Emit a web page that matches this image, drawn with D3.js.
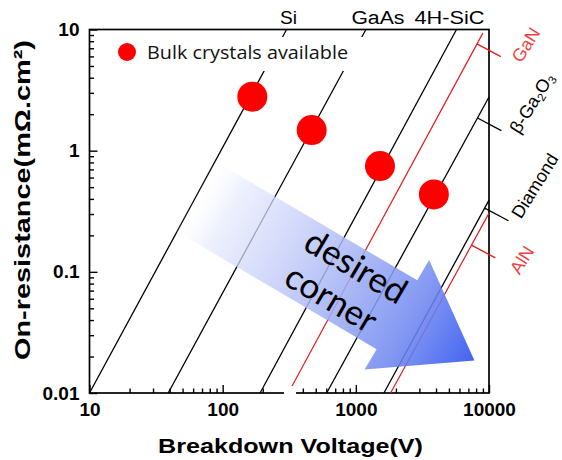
<!DOCTYPE html>
<html><head><meta charset="utf-8">
<script src="https://cdn.jsdelivr.net/npm/d3@7"></script>
<style>body{margin:0;background:#fff}svg{display:block}</style>
</head><body><svg id="chart" width="562" height="460"></svg>
<script>
// ---- data ----
const materials  = ["Si", "GaAs", "4H-SiC", "GaN", "β-Ga2O3", "Diamond", "AlN"];
const lineStartV = [10, 39, 191, 326, 604, 1625, 1824];
const lineStartR = [0.01, 0.01, 0.01, 0.011, 0.01, 0.01, 0.01];
const lineEndV   = [302, 1190, 5700, 8990, 10000, 10000, 10000];
const lineEndR   = [10, 10, 10, 9.33, 2.77, 0.391, 0.305];
const bulkV = [167, 466, 1518, 3855];
const bulkR = [2.79, 1.48, 0.746, 0.435];
const xTicks = [10, 100, 1000, 10000];
const yTicks = [0.01, 0.1, 1, 10];
const xTickLabels = ["10", "100", "1000", "10000"];
const yTickLabels = ["0.01", "0.1", "1", "10"];
const sideMaterials = ["GaN", "β-Ga2O3", "Diamond", "AlN"];
const sideLeaderR   = [7.6, 1.86, 0.336, 0.166];
const legendLabel = "Bulk crystals available";
const xTitle = "Breakdown Voltage(V)";
const yTitle = "On-resistance(mΩ.cm²)";

// ---- styles ----
const RED = "#e21b1b", LABEL_RED = "#ee4444";
const lineColor = {"Si":"#000","GaAs":"#000","4H-SiC":"#000","GaN":RED,"β-Ga2O3":"#000","Diamond":"#000","AlN":RED};
const SANS = "'Liberation Sans', Arial, sans-serif";

const svg = d3.select("#chart");
const x = d3.scaleLog().domain([10, 10000]).range([89.5, 489]);
const y = d3.scaleLog().domain([0.01, 10]).range([393, 29.5]);

// minor ticks
const minorX = [], minorY = [];
[10, 100, 1000].forEach(d => { for (let k = 2; k <= 9; k++) minorX.push(d * k); });
[0.01, 0.1, 1].forEach(d => { for (let k = 2; k <= 9; k++) minorY.push(+(d * k).toPrecision(3)); });

function styleAxis(g) {
  g.select(".domain").remove();
  g.selectAll("line").attr("stroke", "#000").attr("stroke-width", 1.4);
  g.selectAll("text").attr("font-family", SANS).attr("font-weight", "bold")
    .attr("font-size", 19).attr("fill", "#000");
}
svg.append("g").attr("transform", "translate(0,393)")
  .call(d3.axisBottom(x).tickValues(minorX).tickSize(-4.5).tickFormat(""))
  .call(styleAxis);
svg.append("g").attr("transform", "translate(0,393)")
  .call(d3.axisBottom(x).tickValues(xTicks).tickSize(-8).tickPadding(10)
    .tickFormat((d, i) => xTickLabels[i]))
  .call(styleAxis);
svg.append("g").attr("transform", "translate(89.5,0)")
  .call(d3.axisLeft(y).tickValues(minorY).tickSize(-4.5).tickFormat(""))
  .call(styleAxis);
svg.append("g").attr("transform", "translate(89.5,0)")
  .call(d3.axisLeft(y).tickValues(yTicks).tickSize(-8).tickPadding(10)
    .tickFormat((d, i) => yTickLabels[i]))
  .call(styleAxis);

// frame
svg.append("rect")
  .attr("x", x(10)).attr("y", y(10))
  .attr("width", x(10000) - x(10)).attr("height", y(0.01) - y(10))
  .attr("fill", "none").attr("stroke", "#000").attr("stroke-width", 1.7);

// material limit lines
const lineData = materials.map((m, i) => ({
  name: m,
  pts: [[lineStartV[i], lineStartR[i]], [lineEndV[i], lineEndR[i]]]
}));
const lineGen = d3.line().x(d => x(d[0])).y(d => y(d[1]));
svg.append("g").selectAll("path").data(lineData).join("path")
  .attr("d", d => lineGen(d.pts))
  .attr("fill", "none")
  .attr("stroke", d => lineColor[d.name])
  .attr("stroke-width", d => lineColor[d.name] === RED ? 1.2 : 1.3);

// gap in x axis at the GaN line foot
svg.append("rect").attr("x", x(lineStartV[3]) - 7).attr("y", 386)
  .attr("width", 12).attr("height", 10).attr("fill", "#fff");

// top labels
const topOffsets = [2, 12, -7];
svg.append("g").selectAll("text").data(materials.slice(0, 3)).join("text")
  .attr("x", (d, i) => x(lineEndV[i]) + topOffsets[i])
  .attr("y", 24)
  .attr("text-anchor", "middle")
  .attr("font-family", SANS).attr("font-size", 18)
  .attr("textLength", (d, i) => [17, 53, 70][i]).attr("lengthAdjust", "spacingAndGlyphs")
  .text(d => d);

// bulk crystal dots
svg.append("g").selectAll("circle").data(bulkV.map((v, i) => [v, bulkR[i]])).join("circle")
  .attr("cx", d => x(d[0])).attr("cy", d => y(d[1])).attr("r", 15)
  .attr("fill", "#ff0000");

// legend (white box hides lines)
svg.append("rect").attr("x", 100).attr("y", 37).attr("width", 272).attr("height", 34).attr("fill", "#fff");
svg.append("circle").attr("cx", 127).attr("cy", 52).attr("r", 9).attr("fill", "#ff0000");
svg.append("text").attr("x", 147).attr("y", 58.5)
  .attr("font-family", "'Open Sans', sans-serif").attr("font-size", 18)
  .attr("textLength", 201).attr("lengthAdjust", "spacingAndGlyphs")
  .attr("fill", "#111").text(legendLabel);

// side leaders + labels
function pointOnLine(i, r) {
  const lr0 = Math.log10(lineStartR[i]), lr1 = Math.log10(lineEndR[i]);
  const lv0 = Math.log10(lineStartV[i]), lv1 = Math.log10(lineEndV[i]);
  const t = (Math.log10(r) - lr0) / (lr1 - lr0);
  return [Math.pow(10, lv0 + t * (lv1 - lv0)), r];
}
const ang = 28 * Math.PI / 180, LL = 27;
const sideLabelPos = [[526, 45], [532, 103], [535, 186], [522, 260]];
sideMaterials.forEach((m, k) => {
  const i = materials.indexOf(m);
  const p = pointOnLine(i, sideLeaderR[k]);
  const x0 = x(p[0]), y0 = y(p[1]);
  const col = lineColor[m] === RED ? RED : "#000";
  svg.append("line").attr("x1", x0).attr("y1", y0)
    .attr("x2", x0 + LL * Math.cos(ang)).attr("y2", y0 + LL * Math.sin(ang))
    .attr("stroke", col).attr("stroke-width", 1.3);
  const t = svg.append("text")
    .attr("transform", `translate(${sideLabelPos[k][0]},${sideLabelPos[k][1]}) rotate(-58)`)
    .attr("text-anchor", "middle").attr("dominant-baseline", "central")
    .attr("font-family", SANS).attr("font-size", 18)
    .attr("fill", lineColor[m] === RED ? LABEL_RED : "#000");
  if (m === "β-Ga2O3") {
    t.append("tspan").text("β-Ga");
    t.append("tspan").attr("font-size", 11.5).attr("dy", 5).text("2");
    t.append("tspan").attr("dy", -5).text("O");
    t.append("tspan").attr("font-size", 11.5).attr("dy", 5).text("3");
  } else {
    t.text(m);
  }
});

// "desired corner" arrow
const defs = svg.append("defs");
const theta = 30.5, Ls = 237, Lh = 90, hw = 40, hh = 63.5;
const grad = defs.append("linearGradient").attr("id", "arrowGrad")
  .attr("gradientUnits", "userSpaceOnUse")
  .attr("x1", 0).attr("y1", 0).attr("x2", Ls + Lh).attr("y2", 0);
[[0, "#ffffff", 0], [0.12, "#e6eafc", 0.7], [0.5, "#a9b6f5", 0.85], [0.78, "#7088f0", 0.88], [1, "#3356f0", 0.92]]
  .forEach(s => grad.append("stop").attr("offset", s[0]).attr("stop-color", s[1]).attr("stop-opacity", s[2]));
const ag = svg.append("g").attr("transform", `translate(192.7,194.5) rotate(${theta})`);
ag.append("path")
  .attr("d", d3.line()([[0, -hw], [Ls, -hw], [Ls, -hh], [Ls + Lh, 0], [Ls, hh], [Ls, hw], [0, hw]]) + "Z")
  .attr("fill", "url(#arrowGrad)");
const tg = svg.append("g").attr("transform", `translate(342,284) rotate(${theta})`)
  .attr("font-family", "Lato, 'Open Sans', sans-serif").attr("font-size", 35).attr("fill", "#000")
  .attr("text-anchor", "middle");
tg.append("text").attr("x", 3).attr("y", -10).text("desired");
tg.append("text").attr("x", -2).attr("y", 30).text("corner");

// axis titles
svg.append("text").attr("x", 290.5).attr("y", 453).attr("text-anchor", "middle")
  .attr("font-family", SANS).attr("font-weight", "bold").attr("font-size", 21)
  .attr("textLength", 265).attr("lengthAdjust", "spacingAndGlyphs")
  .text(xTitle);
svg.append("text").attr("transform", "translate(30,200) rotate(-90)").attr("text-anchor", "middle")
  .attr("font-family", SANS).attr("font-weight", "bold").attr("font-size", 22)
  .attr("textLength", 320).attr("lengthAdjust", "spacingAndGlyphs")
  .text(yTitle);
</script></body></html>
